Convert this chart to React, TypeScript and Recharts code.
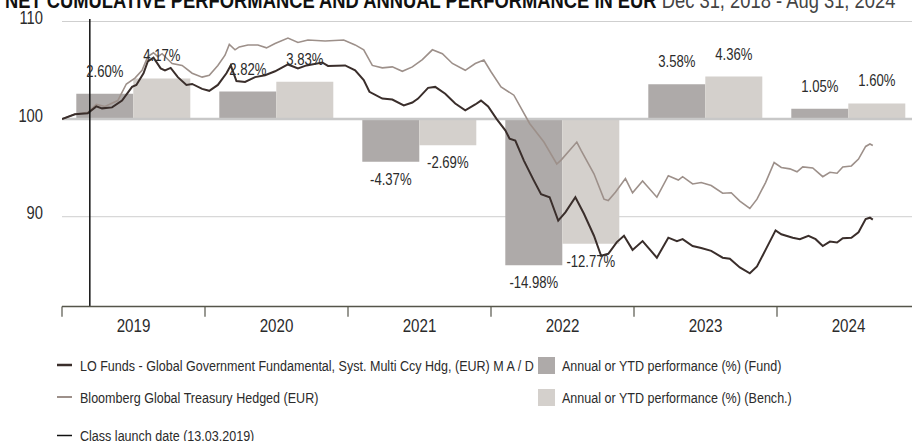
import React from 'react';
import {
  ComposedChart,
  Bar,
  Line,
  XAxis,
  YAxis,
  CartesianGrid,
  ReferenceLine,
  LabelList,
} from 'recharts';

const FONT = "'Liberation Sans', Arial, sans-serif";
const NARROW = 0.82; // horizontal squeeze to mimic a condensed face

// Annual / YTD performance (%)
const years = ['2019', '2020', '2021', '2022', '2023', '2024'];
const fundAnnual = [2.6, 2.82, -4.37, -14.98, 3.58, 1.05];
const benchAnnual = [4.17, 3.83, -2.69, -12.77, 4.36, 1.6];

// Net cumulative performance (rebased to 100), time in decimal years
const fundTime = [
  2019.0, 2019.09, 2019.18, 2019.24, 2019.28, 2019.35, 2019.42, 2019.49, 2019.52, 2019.57,
  2019.6, 2019.64, 2019.69, 2019.72, 2019.76, 2019.81, 2019.87, 2019.91, 2019.98, 2020.03,
  2020.09, 2020.15, 2020.18, 2020.22, 2020.28, 2020.35, 2020.42, 2020.49, 2020.58, 2020.65,
  2020.71, 2020.82, 2020.86, 2020.98, 2021.05, 2021.11, 2021.15, 2021.24, 2021.31, 2021.39,
  2021.45, 2021.49, 2021.56, 2021.61, 2021.68, 2021.75, 2021.82, 2021.89, 2021.93, 2021.98,
  2022.04, 2022.1, 2022.13, 2022.17, 2022.23, 2022.3, 2022.35, 2022.41, 2022.47, 2022.52,
  2022.59, 2022.65, 2022.72, 2022.77, 2022.82, 2022.88, 2022.93, 2022.99, 2023.06, 2023.16,
  2023.24, 2023.3, 2023.34, 2023.41, 2023.47, 2023.54, 2023.62, 2023.67, 2023.74, 2023.81,
  2023.86, 2023.92, 2023.99, 2024.03, 2024.11, 2024.16, 2024.22, 2024.27, 2024.32, 2024.37,
  2024.42, 2024.46, 2024.52, 2024.57, 2024.62, 2024.65, 2024.67,
];
const fundIndex = [
  100.0, 100.5, 100.6, 101.3, 101.1, 101.2, 101.9, 103.3, 103.5, 104.7,
  105.9, 106.3, 105.2, 105.0, 105.25, 104.3, 103.5, 103.6, 103.1, 102.9,
  103.5, 104.7, 105.5, 103.9, 103.8, 104.3, 104.5, 104.9, 105.6, 105.2,
  105.5, 105.8, 105.45, 105.5, 105.0, 104.0, 102.8, 102.1, 102.0, 101.4,
  101.7, 102.1, 103.2, 103.3, 102.6, 101.6, 100.9, 101.5, 101.9, 101.3,
  100.0, 98.85, 98.0, 97.8, 95.75, 93.7, 92.3, 92.0, 89.6, 90.45,
  92.0, 90.3, 88.05, 86.0, 86.2, 87.4, 88.05, 86.6, 87.5, 85.8,
  87.85, 87.5, 87.7, 87.0, 86.8, 86.5, 85.8, 85.7, 84.8, 84.2,
  84.9, 86.6, 88.6, 88.2, 87.85, 87.7, 88.05, 87.7, 87.0, 87.45,
  87.35, 87.8, 87.85, 88.4, 89.75, 89.9, 89.7,
];

const benchTime = [
  2019.0, 2019.09, 2019.18, 2019.24, 2019.3, 2019.39, 2019.45, 2019.51, 2019.56, 2019.6,
  2019.64, 2019.67, 2019.7, 2019.77, 2019.84, 2019.91, 2019.98, 2020.03, 2020.09, 2020.14,
  2020.17, 2020.21, 2020.24, 2020.3, 2020.37, 2020.43, 2020.49, 2020.58, 2020.65, 2020.72,
  2020.84, 2020.97, 2021.05, 2021.11, 2021.17, 2021.24, 2021.31, 2021.38, 2021.45, 2021.52,
  2021.59, 2021.66, 2021.73, 2021.82, 2021.89, 2021.95, 2022.0, 2022.07, 2022.16, 2022.27,
  2022.37, 2022.46, 2022.49, 2022.6, 2022.63, 2022.72, 2022.79, 2022.82, 2022.87, 2022.94,
  2022.99, 2023.06, 2023.16, 2023.24, 2023.31, 2023.34, 2023.41, 2023.47, 2023.54, 2023.62,
  2023.68, 2023.74, 2023.81, 2023.86, 2023.92, 2023.98, 2024.03, 2024.09, 2024.14, 2024.18,
  2024.25, 2024.32, 2024.37, 2024.42, 2024.46, 2024.52, 2024.57, 2024.62, 2024.65, 2024.67,
];
const benchIndex = [
  100.0, 100.5, 100.7, 101.5, 101.3, 101.9, 103.6, 104.2, 105.0, 106.4,
  106.8, 106.4, 106.7, 105.7, 105.5, 104.7, 104.3, 104.5, 105.5, 106.55,
  107.65, 107.1, 107.4, 107.6, 107.6, 107.3, 107.75, 108.3, 107.85, 108.1,
  108.0, 108.1, 107.6, 107.1, 105.5, 105.25, 105.35, 104.9, 105.35, 106.1,
  107.1, 106.7, 105.7, 105.0, 105.7, 106.05, 104.85, 103.3, 102.45, 99.55,
  97.65, 95.4, 95.8, 97.65, 96.8, 94.4, 91.8, 91.65, 92.5, 93.9,
  92.45, 93.65, 92.0, 94.2, 93.75, 94.1, 93.35, 93.5, 93.2, 92.4,
  92.45, 91.6, 90.85, 91.8, 93.5, 95.55, 95.05, 94.9, 94.6, 95.1,
  95.0, 94.1, 94.55, 94.45, 95.1, 95.2, 95.9, 97.2, 97.45, 97.3,
];

const yTicks = [90, 100, 110];
const yDomain: [number, number] = [80.8, 110];
const yearBoundaries = [2019, 2020, 2021, 2022, 2023, 2024, 2025];
const launchDate = 2019 + 71 / 365; // 13.03.2019

const barData = years.map((year, i) => {
  const f = fundAnnual[i];
  const b = benchAnnual[i];
  return {
    year,
    fund: f,
    bench: b,
    fundRange: f >= 0 ? [100, 100 + f] : [100 + f, 100],
    benchRange: b >= 0 ? [100, 100 + b] : [100 + b, 100],
  };
});
const fundSeries = fundTime.map((t, i) => ({ t, v: fundIndex[i] }));
const benchSeries = benchTime.map((t, i) => ({ t, v: benchIndex[i] }));

const COLORS = {
  fundBar: '#aeaaa9',
  benchBar: '#d4d0cc',
  fundLine: '#3a2e2b',
  benchLine: '#9d908a',
  grid: '#cfcfcf',
  zero: '#c8c8c8',
  axis: '#55554a',
  text: '#2b2b2b',
};

const NText = (props: any) => {
  const { x, y, anchor = 'start', size, weight = 'normal', fill = COLORS.text, children } = props;
  return (
    <text
      transform={`translate(${x},${y}) scale(${NARROW},1)`}
      x={0}
      y={0}
      textAnchor={anchor}
      fontSize={size}
      fontWeight={weight}
      fill={fill}
      fontFamily={FONT}
    >
      {children}
    </text>
  );
};

const YTick = (props: any) => {
  const { x, y, payload } = props;
  return (
    <NText x={x - 19} y={y + 2.7} anchor="end" size={18}>
      {payload.value}
    </NText>
  );
};

const YearTick = (props: any) => {
  const { x, y, payload } = props;
  return (
    <NText x={x} y={y + 25} anchor="middle" size={18.5}>
      {payload.value}
    </NText>
  );
};

const renderBarLabel = (props: any) => {
  const { x, y, width, height, value } = props;
  const v = Number(value);
  const top = Math.min(y, y + height);
  const bottom = Math.max(y, y + height);
  const ty = v >= 0 ? top - 17 : bottom + 23;
  return (
    <NText x={x + width / 2} y={ty} anchor="middle" size={16}>
      {v.toFixed(2)}%
    </NText>
  );
};

export default function App() {
  return (
    <div
      style={{
        position: 'absolute',
        left: 0,
        top: 0,
        width: 912,
        height: 441,
        overflow: 'hidden',
        background: '#fff',
        fontFamily: FONT,
      }}
    >
      <ComposedChart
        width={930}
        height={345}
        data={barData}
        margin={{ top: 21.5, right: 10, bottom: 8.5, left: 0 }}
        barCategoryGap="10%"
        barGap={0}
      >
        <CartesianGrid xAxisId="time" vertical={false} stroke={COLORS.grid} strokeWidth={1} />
        <XAxis
          xAxisId="time"
          type="number"
          dataKey="t"
          domain={[2019, 2025]}
          ticks={yearBoundaries}
          hide
          allowDataOverflow
        />
        <XAxis
          xAxisId="bar"
          type="category"
          dataKey="year"
          height={30}
          tickSize={0}
          tickMargin={0}
          axisLine={{ stroke: COLORS.axis, strokeWidth: 1.5 }}
          tickLine={false}
          tick={YearTick}
          interval={0}
        />
        <YAxis
          type="number"
          domain={yDomain}
          ticks={yTicks}
          width={62}
          axisLine={false}
          tickLine={false}
          tickSize={0}
          tickMargin={0}
          tick={YTick}
          allowDataOverflow
        />
        <Bar xAxisId="bar" dataKey="fundRange" fill={COLORS.fundBar} isAnimationActive={false}>
          <LabelList dataKey="fund" content={renderBarLabel} />
        </Bar>
        <Bar xAxisId="bar" dataKey="benchRange" fill={COLORS.benchBar} isAnimationActive={false}>
          <LabelList dataKey="bench" content={renderBarLabel} />
        </Bar>
        <ReferenceLine xAxisId="time" y={100} stroke={COLORS.zero} strokeWidth={2.5} />
        {yearBoundaries.map((yb) => (
          <ReferenceLine
            key={yb}
            xAxisId="time"
            segment={[
              { x: yb, y: yDomain[0] },
              { x: yb, y: yDomain[0] - 1.05 },
            ]}
            ifOverflow="visible"
            stroke={COLORS.axis}
            strokeWidth={1.2}
          />
        ))}
        <Line
          xAxisId="time"
          data={benchSeries}
          dataKey="v"
          type="linear"
          stroke={COLORS.benchLine}
          strokeWidth={1.6}
          dot={false}
          activeDot={false}
          isAnimationActive={false}
        />
        <Line
          xAxisId="time"
          data={fundSeries}
          dataKey="v"
          type="linear"
          stroke={COLORS.fundLine}
          strokeWidth={2}
          dot={false}
          activeDot={false}
          isAnimationActive={false}
        />
        <ReferenceLine
          xAxisId="time"
          segment={[
            { x: launchDate, y: 110.25 },
            { x: launchDate, y: yDomain[0] },
          ]}
          ifOverflow="visible"
          stroke="#111"
          strokeWidth={1.5}
        />
      </ComposedChart>

      <svg
        width={912}
        height={441}
        style={{ position: 'absolute', left: 0, top: 0, pointerEvents: 'none' }}
      >
        <text
          transform={`translate(5,8) scale(${NARROW},1)`}
          x={0}
          y={0}
          fontSize={22.4}
          fontWeight="bold"
          fill="#111"
          fontFamily={FONT}
        >
          NET CUMULATIVE PERFORMANCE AND ANNUAL PERFORMANCE IN EUR
          <tspan fontWeight="normal" fill="#444"> Dec 31, 2018 - Aug 31, 2024</tspan>
        </text>

        <line x1={57} x2={72} y1={365} y2={365} stroke={COLORS.fundLine} strokeWidth={2.5} />
        <NText x={80} y={370.5} size={15.3}>
          LO Funds - Global Government Fundamental, Syst. Multi Ccy Hdg, (EUR) M A / D
        </NText>
        <line x1={57} x2={72} y1={397} y2={397} stroke={COLORS.benchLine} strokeWidth={2} />
        <NText x={80} y={402.5} size={15.3}>
          Bloomberg Global Treasury Hedged (EUR)
        </NText>
        <line x1={57} x2={72} y1={435.5} y2={435.5} stroke="#111" strokeWidth={1.5} />
        <NText x={80} y={440.5} size={15.3}>
          Class launch date (13.03.2019)
        </NText>

        <rect x={538} y={357} width={17} height={17} fill={COLORS.fundBar} />
        <NText x={562} y={370.5} size={15.3}>
          Annual or YTD performance (%) (Fund)
        </NText>
        <rect x={538} y={389} width={17} height={17} fill={COLORS.benchBar} />
        <NText x={562} y={402.5} size={15.3}>
          Annual or YTD performance (%) (Bench.)
        </NText>
      </svg>
    </div>
  );
}
